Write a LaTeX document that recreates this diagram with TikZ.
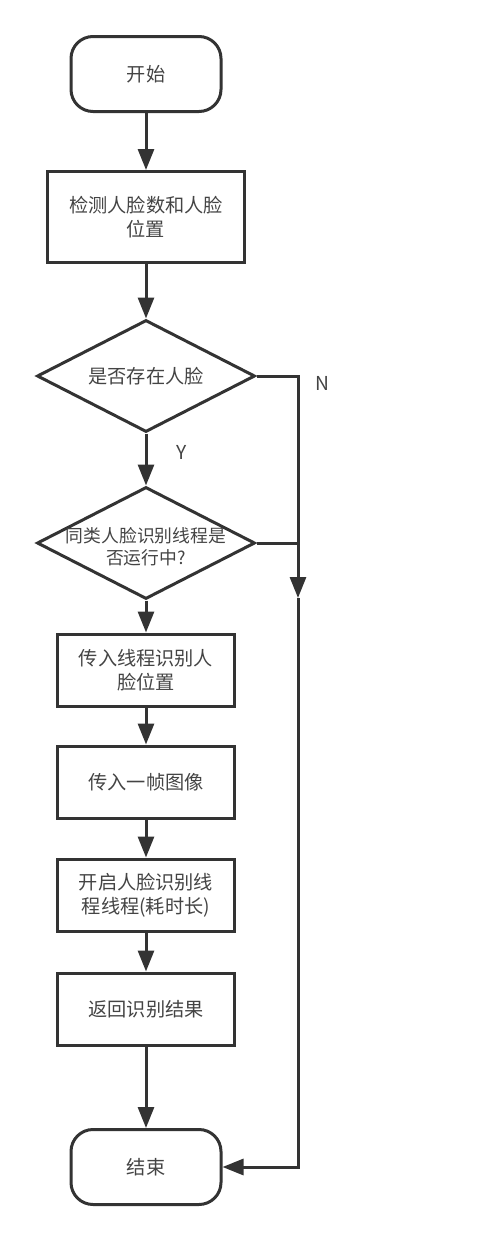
\documentclass[tikz,border=0pt]{standalone}
\usepackage{fontspec}
\setmainfont{Noto Sans CJK SC}
\usetikzlibrary{shapes.geometric,arrows.meta}
\definecolor{linegray}{HTML}{333333}
\definecolor{textgray}{HTML}{444444}

\tikzset{
  terminal/.style={draw=linegray, line width=1.5pt, rounded corners=11pt,
    minimum width=75pt, minimum height=37.5pt, text=textgray},
  process/.style={draw=linegray, line width=1.5pt, minimum width=88.5pt,
    minimum height=36pt, align=center, text=textgray},
  decision/.style={diamond, draw=linegray, line width=1.5pt,
    minimum width=109pt, minimum height=56pt, inner sep=0pt},
  flow/.style={draw=linegray, line width=1.5pt, -{Triangle[length=10.5pt,width=8pt]}},
  plain/.style={draw=linegray, line width=1.5pt},
}

\begin{document}
\begin{tikzpicture}[x=0.5pt, y=-0.5pt, font=\fontsize{9.6pt}{12pt}\selectfont]
\useasboundingbox (0,0) rectangle (500,1242);
% main column
\node[terminal] (start) at (146,74) {开始};
\node[process, minimum width=98.5pt, minimum height=45.5pt] (detect) at (146,217) {检测人脸数和人脸\\位置};
\node[decision, label={[text=textgray]center:是否存在人脸}] (hasface) at (146,376) {};
\node[decision, label={[text=textgray, align=center, yshift=-2pt, font=\fontsize{8.9pt}{11pt}\selectfont]center:同类人脸识别线程是\\否运行中?}] (running) at (146,543) {};
\node[process] (pass) at (146,670) {传入线程识别人\\脸位置};
\node[process] (frame) at (146,782) {传入一帧图像};
\node[process] (thread) at (146,895) {开启人脸识别线\\程线程(耗时长)};
\node[process] (result) at (146,1009) {返回识别结果};
\node[terminal] (end) at (146,1167) {结束};
% branch labels
\node[text=textgray] (yes) at (182,452) {Y};
\node[text=textgray] (no) at (322,383) {N};
% right return line
\coordinate (cornerN) at (298,376);
\coordinate (mid) at (298,598);
\coordinate (cornerE) at (298,1167);

\draw[flow] (start) -- (detect);
\draw[flow] (detect) -- (hasface);
\draw[flow] (hasface) -- (running);
\draw[flow] (running) -- (pass);
\draw[flow] (pass) -- (frame);
\draw[flow] (frame) -- (thread);
\draw[flow] (thread) -- (result);
\draw[flow] (result) -- (end);
\draw[flow] (hasface.east) -- (cornerN) -- (mid);
\draw[plain] (running.east) -- (running.east -| mid);
\draw[flow] (mid) -- (cornerE) -- (end.east);
\end{tikzpicture}
\end{document}
